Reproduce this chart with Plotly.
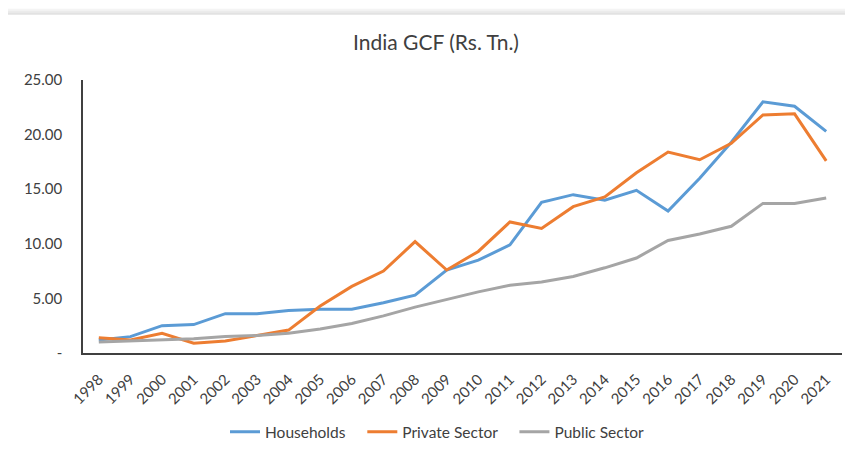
import plotly.graph_objects as go

years = [str(y) for y in range(1998, 2022)]
households = [1.2, 1.5, 2.5, 2.6, 3.6, 3.6, 3.9, 4.0, 4.0, 4.6, 5.3, 7.6, 8.5, 9.9, 13.8, 14.5, 14.0, 14.9, 13.0, 16.0, 19.3, 23.0, 22.6, 20.3]
private_sector = [1.4, 1.2, 1.8, 0.9, 1.1, 1.6, 2.1, 4.3, 6.1, 7.5, 10.2, 7.6, 9.3, 12.0, 11.4, 13.4, 14.3, 16.5, 18.4, 17.7, 19.2, 21.8, 21.9, 17.6]
public_sector = [1.0, 1.1, 1.2, 1.3, 1.5, 1.6, 1.8, 2.2, 2.7, 3.4, 4.2, 4.9, 5.6, 6.2, 6.5, 7.0, 7.8, 8.7, 10.3, 10.9, 11.6, 13.7, 13.7, 14.2]

y_tickvals = [0, 5, 10, 15, 20, 25]
y_ticktext = ["-", "5.00", "10.00", "15.00", "20.00", "25.00"]

PAD = "\u00a0\u00a0\u00a0"
series = [
    ("Households", households, "#5B9BD5", PAD),
    ("Private Sector", private_sector, "#ED7D31", PAD),
    ("Public Sector", public_sector, "#A5A5A5", ""),
]

fig = go.Figure()
for name, vals, color, pad in series:
    fig.add_trace(go.Scatter(x=years, y=vals, name=name + pad, mode="lines",
                             line=dict(color=color, width=3)))

# figure is placed at an 8px page offset
W, H = 845, 452
L, R, T, B = 75, 11, 72, 104
pw, ph = W - L - R, H - T - B

def px_x(x):
    return (x - L) / pw

def px_y(y):
    return (H - B - y) / ph

shapes = []
for off, col in [(0, "#f4f4f4"), (2, "#ebebeb"), (4, "#e2e2e2")]:
    shapes.append(dict(type="rect", xref="paper", yref="paper", layer="below",
                       x0=px_x(0), x1=px_x(W + 20), y0=px_y(H + 20), y1=px_y(off),
                       fillcolor=col, line=dict(width=0)))
shapes.append(dict(type="rect", xref="paper", yref="paper", layer="below",
                   x0=px_x(0), x1=px_x(W + 20), y0=px_y(H + 20), y1=px_y(6),
                   fillcolor="white", line=dict(width=0)))

FONT = "Lato, Open Sans, sans-serif"
fig.update_layout(
    width=W, height=H,
    margin=dict(l=L, r=R, t=T, b=B),
    paper_bgcolor="white", plot_bgcolor="rgba(0,0,0,0)",
    font=dict(family=FONT, size=15, color="#404040"),
    title=dict(text="India GCF (Rs. Tn.)", x=428 / W, xanchor="center",
               y=1 - 35 / H, yanchor="middle",
               font=dict(size=21, color="#404040")),
    xaxis=dict(type="category", range=[-0.5, 23.5], tickangle=-45,
               showline=True, linecolor="#404040", linewidth=1.5,
               showgrid=False, ticks="outside", ticklen=10, tickcolor="rgba(0,0,0,0)",
               tickfont=dict(size=15, color="#404040")),
    yaxis=dict(range=[0, 25], tickvals=y_tickvals, ticktext=y_ticktext,
               showline=True, linecolor="#404040", linewidth=1.5,
               showgrid=False, zeroline=False, ticks="outside", ticklen=16,
               tickcolor="rgba(0,0,0,0)",
               tickfont=dict(size=15, color="#404040")),
    legend=dict(orientation="h", x=px_x(429), xanchor="center",
                y=px_y(428), yanchor="middle", font=dict(size=15.5, color="#404040"),
                bgcolor="rgba(0,0,0,0)"),
    shapes=shapes,
    showlegend=True,
)

fig.write_html("out.html")
